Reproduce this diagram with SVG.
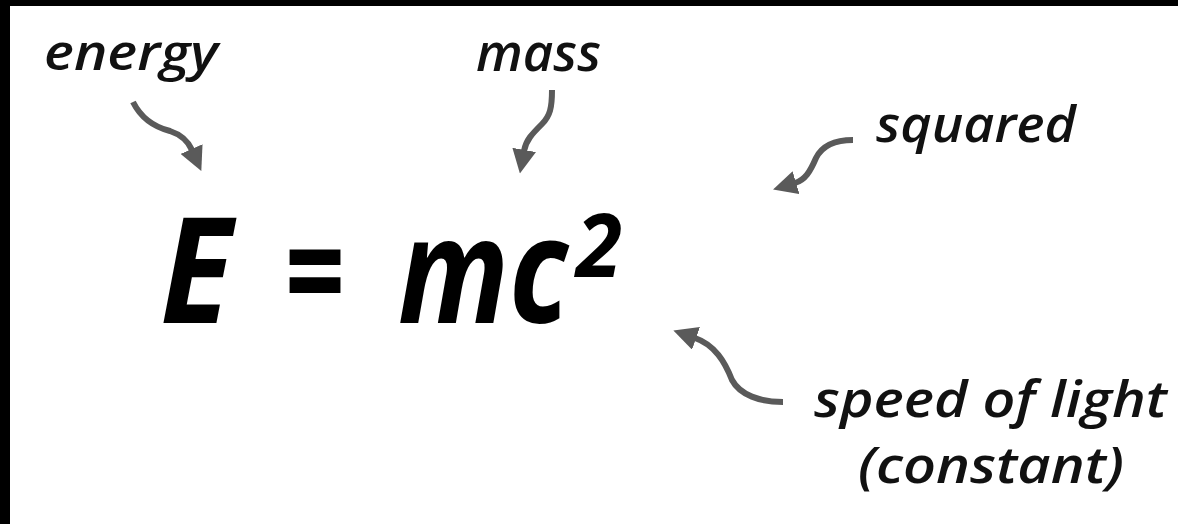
<svg xmlns="http://www.w3.org/2000/svg" width="1178" height="524" viewBox="0 0 1178 524">
<defs>
<marker id="head" markerUnits="userSpaceOnUse" markerWidth="24" markerHeight="24" viewBox="0 0 22 22" refX="1" refY="11" orient="auto">
<path d="M0,0 L22,11 L0,22 z" fill="#5a5a5a"/>
</marker>
<style>
.lbl{font-family:"Open Sans","DejaVu Sans",sans-serif;font-style:italic;font-weight:600;fill:#111;}
.eq{font-family:"Open Sans","DejaVu Sans",sans-serif;font-weight:700;font-style:italic;fill:#000;}
.arr{fill:none;stroke:#5a5a5a;stroke-width:6;stroke-linecap:butt;marker-end:url(#head);}
</style>
</defs>
<rect x="0" y="0" width="1178" height="524" fill="#fff"/>
<rect x="0" y="0" width="1178" height="6" fill="#000"/>
<rect x="0" y="0" width="10" height="524" fill="#000"/>
<g id="equation">
<text class="eq" x="160" y="323" font-size="148" textLength="72" lengthAdjust="spacingAndGlyphs">E</text>
<text class="eq" x="284" y="323" font-size="148" textLength="60" lengthAdjust="spacingAndGlyphs">=</text>
<text class="eq" transform="translate(398 323) scale(0.81 1)" x="0" y="0" font-size="148" textLength="210" lengthAdjust="spacingAndGlyphs">mc</text>
<text class="eq" x="576" y="277" font-size="88" textLength="46" lengthAdjust="spacingAndGlyphs">2</text>
</g>
<g id="label-energy">
<text class="lbl" x="44" y="70" font-size="48" textLength="174" lengthAdjust="spacingAndGlyphs">energy</text>
</g>
<g id="label-mass">
<text class="lbl" x="476" y="71" font-size="52" textLength="125" lengthAdjust="spacingAndGlyphs">mass</text>
</g>
<g id="label-squared">
<text class="lbl" x="876" y="142" font-size="50" textLength="200" lengthAdjust="spacingAndGlyphs">squared</text>
</g>
<g id="label-speed">
<text class="lbl" x="814" y="417" font-size="50" textLength="353" lengthAdjust="spacingAndGlyphs">speed of light</text>
<text class="lbl" x="858" y="483" font-size="50" textLength="266" lengthAdjust="spacingAndGlyphs">(constant)</text>
</g>
<g id="connectors">
<path class="arr" d="M133,102 C142,120 158,128 170,131 C182,135 188,141 192,150"/>
<path class="arr" d="M552,90 C552,108 550,116 542,124 C532,134 526,140 524,151"/>
<path class="arr" d="M853,140 C835,140 822,146 816,158 C810,172 805,180 795,183"/>
<path class="arr" d="M783,402 C760,402 740,395 732,380 C725,362 715,345 695,338"/>
</g>
</svg>
